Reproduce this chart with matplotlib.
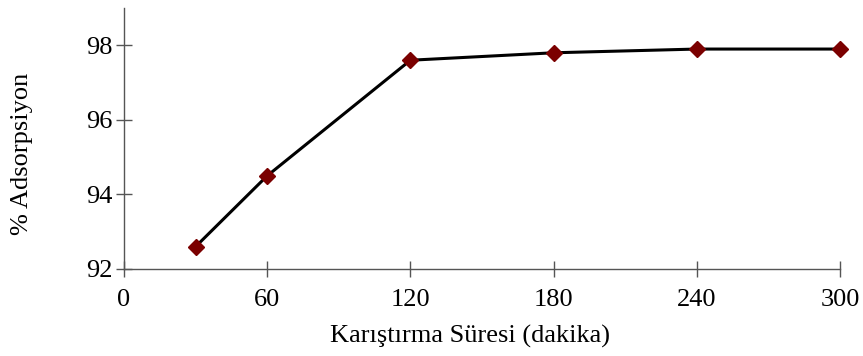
import matplotlib.pyplot as plt

sure = [30, 60, 120, 180, 240, 300]
adsorpsiyon = [92.6, 94.5, 97.6, 97.8, 97.9, 97.9]
xticks = [0, 60, 120, 180, 240, 300]
yticks = [92, 94, 96, 98]

plt.rcParams['font.family'] = ['Liberation Serif', 'DejaVu Serif']

fig = plt.figure(figsize=(8.63, 3.56), dpi=100)
ax = fig.add_axes([0.1437, 0.2444, 0.8296, 0.733])

ax.plot(sure, adsorpsiyon, color="black", linewidth=2.2, marker="D",
        markersize=8.5, markerfacecolor="#7b0000", markeredgecolor="#7b0000",
        zorder=3, clip_on=False)

ax.set_xlim(0, 300)
ax.set_ylim(92, 99)
ax.set_xticks(xticks)
ax.set_yticks(yticks)

for s in ["top", "right"]:
    ax.spines[s].set_visible(False)
for s in ["left", "bottom"]:
    ax.spines[s].set_color("#555555")
    ax.spines[s].set_linewidth(1.0)

ax.tick_params(direction="inout", length=11, width=1.0, color="#555555",
               labelsize=19)
ax.tick_params(axis="x", pad=9)
ax.tick_params(axis="y", pad=3)
ax.set_xlabel("Karıştırma Süresi (dakika)", fontsize=19, labelpad=10)
ax.set_ylabel("% Adsorpsiyon", fontsize=19, labelpad=38)
# labels sit a little off the axis centre
ax.xaxis.label.set_x(0.483)
ax.yaxis.label.set_y(0.44)

fig.savefig("out.png", dpi=100)
